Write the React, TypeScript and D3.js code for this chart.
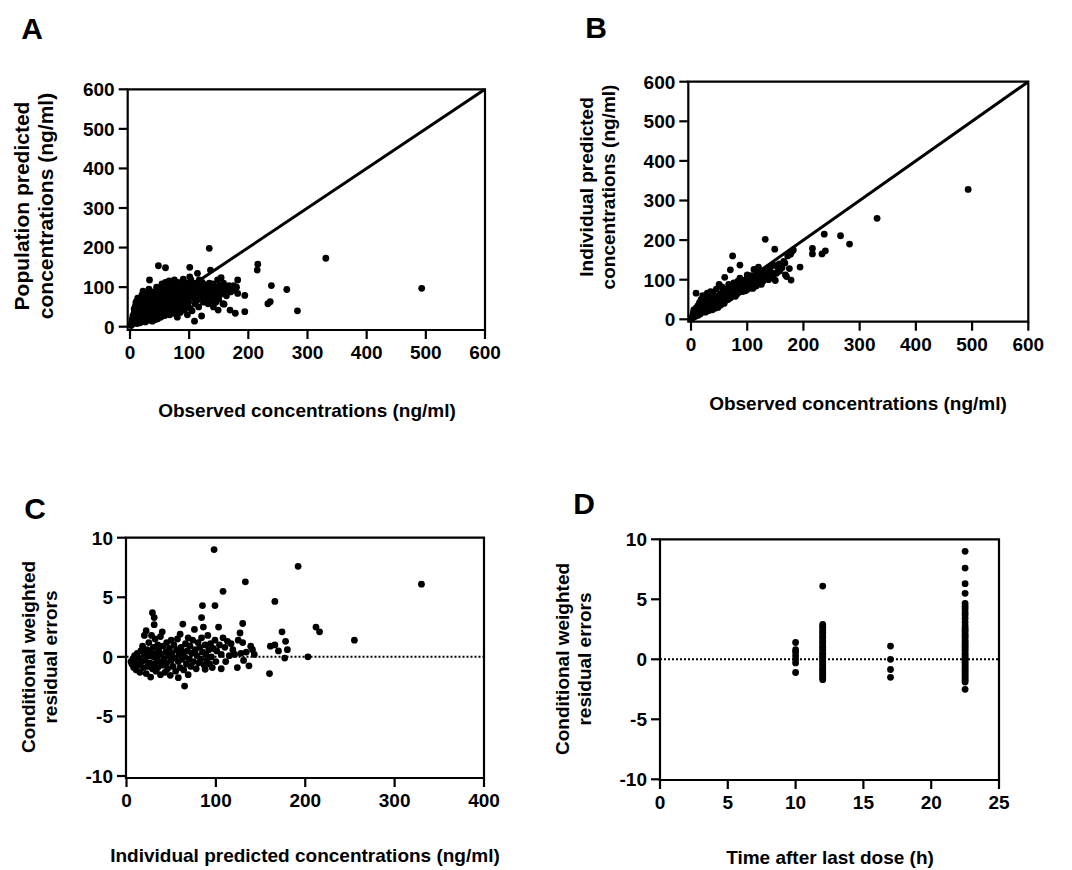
import React, { useEffect } from 'react';
import { scaleLinear } from 'd3';

// ---- data ----
// A: observed vs population predicted (ng/ml)
const obsVsPred: [number, number][] = [
  [2, 3], [3, 12], [4, 20], [5, 8], [5, 28], [6, 16], [7, 35], [7, 45], [8, 10], [8, 24], [9, 52], [10, 18], [10, 32], [10, 62], [11, 40], [12, 8], [12, 27], [13, 72], [13, 50],
  [14, 15], [14, 35], [15, 22], [15, 58], [16, 44], [17, 10], [17, 30], [18, 68], [18, 52], [19, 20], [19, 38], [20, 14], [20, 80], [21, 46], [21, 28], [22, 60], [22, 90], [23, 18], [23, 34], [24, 70], [24, 50], [25, 24], [25, 42],
  [26, 12], [26, 62], [27, 32], [27, 85], [28, 48], [28, 20], [29, 56], [30, 38], [30, 75], [31, 16], [31, 26], [32, 66], [32, 95], [33, 44], [33, 118], [34, 30], [34, 54], [35, 80], [36, 22], [36, 40], [37, 60], [37, 70], [38, 14], [38, 48], [39, 34], [40, 88], [40, 56], [41, 26], [41, 42], [42, 64], [43, 18], [43, 76], [44, 50], [44, 36], [45, 100], [45, 58],
  [46, 28], [46, 44], [47, 70], [47, 20], [48, 154], [48, 84], [49, 52], [50, 36], [50, 62], [51, 96], [52, 24], [52, 76], [53, 46], [54, 58], [54, 108], [55, 32], [55, 88], [56, 68], [57, 40], [57, 50], [58, 80], [58, 100], [59, 28], [60, 149], [60, 60], [60, 112], [61, 44], [62, 72], [62, 90], [63, 36], [64, 54], [64, 104], [65, 82], [66, 64], [66, 116], [67, 30], [67, 48], [68, 94], [68, 70], [69, 58], [70, 110], [70, 40],
  [71, 86], [72, 52], [72, 66], [73, 100], [74, 34], [74, 76], [75, 118], [75, 60], [76, 90], [77, 44], [78, 70], [78, 104], [79, 56], [80, 80], [80, 24], [81, 112], [82, 64], [82, 94], [83, 48], [84, 74], [85, 98], [85, 36], [86, 58], [87, 86], [88, 106], [88, 68], [89, 50], [90, 120], [90, 90], [91, 78], [92, 42], [92, 62], [93, 100], [94, 84], [95, 54], [96, 70], [96, 110], [97, 30], [98, 92], [99, 62], [100, 78], [100, 104], [101, 150], [101, 126],
  [102, 46], [103, 118], [104, 96], [105, 40], [106, 88], [107, 108], [108, 72], [109, 14], [109, 100], [110, 58], [111, 92], [112, 110], [113, 66], [114, 135], [114, 84], [115, 100], [116, 50], [117, 118], [118, 98], [119, 74], [120, 104], [121, 27], [121, 88], [122, 112], [124, 62], [125, 95], [126, 106], [128, 82], [129, 70], [130, 102], [131, 90], [132, 58], [134, 198], [134, 110], [135, 76], [136, 143], [137, 96], [138, 66], [139, 86],
  [140, 108], [141, 50], [142, 92], [144, 74], [145, 62], [146, 100], [147, 86], [148, 118], [149, 42], [150, 70], [151, 104], [153, 82], [154, 124], [155, 96], [157, 58], [158, 110], [159, 57], [160, 90], [162, 100], [163, 78], [165, 96], [167, 104], [169, 42], [170, 88], [172, 98], [175, 104], [176, 92], [178, 34], [180, 100], [182, 118], [182, 84],
  [194, 79], [194, 38], [215, 143], [216, 158], [233, 58], [237, 63], [239, 104], [265, 94], [283, 40], [331, 173], [493, 97],
];

// B: observed vs individual predicted (ng/ml)
const obsVsIpred: [number, number][] = [
  [2, 2], [3, 10], [4, 16], [5, 6], [5, 24], [6, 12], [7, 20], [8, 8], [9, 66], [9, 28], [10, 14], [11, 22], [12, 34], [13, 10], [14, 18], [15, 42], [16, 26], [17, 14], [18, 50], [19, 30], [20, 20],
  [21, 60], [22, 38], [23, 24], [24, 46], [25, 30], [26, 18], [27, 54], [28, 36], [29, 66], [30, 26], [31, 44], [32, 22], [33, 58], [34, 34], [35, 70], [36, 30], [37, 48], [38, 24], [39, 40], [40, 62], [41, 34], [42, 52], [43, 28], [44, 44], [45, 76],
  [46, 38], [47, 58], [48, 30], [49, 48], [50, 88], [51, 42], [52, 64], [53, 36], [54, 54], [55, 82], [56, 44], [57, 70], [58, 50], [59, 40], [60, 106], [60, 62], [61, 58], [62, 48], [63, 76], [64, 56], [65, 66], [66, 50], [67, 88], [68, 60], [69, 72], [70, 125], [70, 54], [71, 64], [72, 84], [73, 58], [74, 160], [74, 70],
  [75, 62], [76, 92], [77, 66], [78, 78], [79, 58], [80, 86], [81, 72], [82, 64], [83, 96], [84, 76], [85, 68], [86, 82], [87, 137], [87, 104], [88, 72], [89, 88], [90, 80], [91, 94], [92, 70], [93, 84], [94, 98], [95, 78], [96, 90], [97, 72], [98, 100], [99, 84], [100, 112], [100, 92], [101, 76], [102, 86], [103, 104], [104, 80], [105, 96], [106, 88], [107, 110], [108, 84], [109, 92], [110, 78],
  [111, 100], [112, 126], [113, 88], [114, 108], [115, 94], [116, 84], [117, 118], [118, 100], [119, 90], [120, 132], [120, 106], [122, 96], [124, 112], [125, 88], [126, 104], [128, 96], [130, 118], [132, 202], [132, 108], [134, 124], [136, 112], [138, 100], [140, 130], [142, 108], [144, 118], [146, 104], [148, 136], [149, 177], [150, 98], [152, 116], [155, 128], [157, 140], [158, 122], [160, 136], [162, 130], [165, 146], [167, 142], [168, 112], [170, 108], [172, 160], [175, 128], [177, 164], [178, 99], [180, 172], [182, 175],
  [194, 132], [216, 179], [216, 165], [233, 165], [237, 215], [239, 173], [266, 211], [282, 190], [331, 255], [493, 328],
];

// C: individual predicted (ng/ml) vs CWRES
const ipredVsCwres: [number, number][] = [
  [5, -0.4], [6, -0.6], [7, -0.2], [8, -0.9], [9, 0.1], [10, -0.5], [11, -1.1], [12, 0.3], [13, -0.7], [14, -0.1], [15, -1.3], [16, 0.5], [17, -0.4], [18, 0.9], [19, -0.9], [20, 1.8], [20, 0.2],
  [21, -0.3], [22, 2.2], [22, -1.4], [23, 0.6], [24, -0.8], [25, 0.1], [25, 1.2], [26, -0.5], [27, -1.7], [27, 0.4], [28, 1.8], [29, 3.7], [29, -1.0], [30, 0.0], [30, 0.8], [31, 3.3], [31, 2.7], [31, -0.6], [32, 1.5], [33, -1.2], [33, 0.3], [34, -0.2], [35, 1.0], [35, -0.9], [36, 0.5], [37, -0.4], [38, 1.7], [38, -1.5], [39, 0.2], [40, 2.1], [40, -0.7],
  [41, 0.9], [42, -0.2], [43, -1.3], [44, 0.4], [45, 1.2], [45, -0.5], [46, -1.0], [47, 0.1], [48, 0.7], [49, -1.55], [50, 1.4], [50, -0.3], [51, 0.3], [52, -0.8], [53, 1.0], [54, -0.1], [55, -1.2], [56, 0.6], [57, 1.5], [58, -1.75], [58, -0.4], [59, 0.2], [60, 1.9], [60, -0.9], [61, 0.8], [62, -0.2], [63, 2.75], [63, 0.4], [64, -1.1], [65, -2.45], [65, 0.0], [66, 1.1], [67, -0.6], [68, 0.5], [69, -1.5], [69, 1.6], [70, -0.2],
  [71, 0.9], [72, -0.8], [73, 0.3], [74, 1.4], [75, -0.4], [76, 2.3], [77, 0.6], [78, -1.0], [79, 0.1], [80, 1.2], [81, -0.5], [82, 0.8], [83, -0.2], [84, 3.3], [84, 1.6], [85, 4.3], [85, 0.4], [86, 2.5], [87, -0.7], [88, -1.05], [88, 1.0], [89, 0.2], [90, -0.3], [91, 1.8], [92, 0.6], [93, -0.6], [94, 1.1], [95, 0.0], [96, -0.9], [97, 0.7], [98, 9.0], [99, 4.3], [99, 1.4], [100, -0.4],
  [101, 0.5], [103, 2.5], [104, 1.0], [106, -1.0], [106, 0.2], [108, 5.5], [108, 1.6], [110, 0.8], [111, -0.4], [113, 1.3], [115, 0.1], [117, 1.1], [119, 0.6], [121, 0.2], [124, -0.9], [125, 1.4], [127, 2.0], [128, 0.3], [130, 2.8], [130, 1.2], [131, -0.3], [133, 6.3], [134, 0.4], [137, -0.75], [139, 0.9], [141, 0.6], [143, 0.2],
  [160, -1.4], [161, 0.9], [166, 1.0], [166, 4.65], [170, 0.5], [174, 2.1], [177, -0.1], [178, 1.3], [180, 0.6], [192, 7.6], [203, 0.0], [212, 2.5], [216, 2.1], [255, 1.4], [330, 6.1],
];

// D: CWRES grouped by time after last dose (h)
const doseTimes = [10, 12, 17, 22.5];
const cwresAt10 = [1.4, 0.8, 0.6, 0.3, 0.0, -0.3, -1.1];
const cwresAt12 = [6.1, 2.9, 2.75, 2.6, 2.4, 2.25, 2.1, 1.9, 1.8, 1.6, 1.45, 1.3, 1.1, 1.0, 0.85, 0.7, 0.5, 0.4, 0.25, 0.1, -0.05, -0.2, -0.35, -0.5, -0.7, -0.8, -0.95, -1.1, -1.25, -1.4, -1.55, -1.7];
const cwresAt17 = [1.1, 0.0, -0.85, -1.5];
const cwresAt22 = [9.0, 7.6, 6.3, 5.5, 4.65, 4.4, 4.2, 3.9, 3.7, 3.4, 3.1, 2.8, 2.6, 2.45, 2.3, 2.1, 1.95, 1.8, 1.6, 1.45, 1.3, 1.15, 1.0, 0.85, 0.7, 0.5, 0.35, 0.2, 0.05, -0.1, -0.25, -0.4, -0.55, -0.7, -0.85, -1.0, -1.15, -1.3, -1.45, -1.6, -1.75, -1.9, -2.5];
const timeVsCwres: [number, number][] = [cwresAt10, cwresAt12, cwresAt17, cwresAt22]
  .flatMap((vals, i) => vals.map((v) => [doseTimes[i], v] as [number, number]));

const concTicks = [0, 100, 200, 300, 400, 500, 600];
const ipredTicks = [0, 100, 200, 300, 400];
const timeTicks = [0, 5, 10, 15, 20, 25];
const cwresTicks = [-10, -5, 0, 5, 10];

const FONT = '"Liberation Sans", Arial, Helvetica, sans-serif';
const DOT_R = 3.4;

type PanelProps = {
  letter: string;
  letterPos: [number, number];
  data: [number, number][];
  xDomain: [number, number];
  yDomain: [number, number];
  xTicks: number[];
  yTicks: number[];
  box: { left: number; right: number; top: number; bottom: number; x0: number; y0: number };
  xTitle: string;
  xTitlePos: [number, number];
  yTitle: string[];
  yTitlePos: [number, number];
  yTitleSize: number;
  identity?: boolean;
  zeroLine?: boolean;
};

const Panel = ({
  letter, letterPos, data, xDomain, yDomain, xTicks, yTicks, box,
  xTitle, xTitlePos, yTitle, yTitlePos, yTitleSize, identity, zeroLine,
}: PanelProps) => {
  const x = scaleLinear().domain(xDomain).range([box.x0, box.right]);
  const y = scaleLinear().domain(yDomain).range([box.y0, box.top]);
  const lineGap = yTitleSize * 1.15;
  return (
    <g fontFamily={FONT} fontWeight="bold" fill="#000">
      <text x={letterPos[0]} y={letterPos[1]} fontSize={30} textAnchor="middle">{letter}</text>

      {/* frame */}
      <path
        d={`M${box.left},${box.top}H${box.right}V${box.bottom}H${box.left}Z`}
        fill="none" stroke="#000" strokeWidth={2.2}
      />

      {zeroLine && (
        <line x1={x(xDomain[0])} x2={box.right} y1={y(0)} y2={y(0)}
          stroke="#000" strokeWidth={2} strokeDasharray="2,2" />
      )}
      {identity && (
        <line x1={x(0)} y1={y(0)} x2={x(xDomain[1])} y2={y(yDomain[1])}
          stroke="#000" strokeWidth={3} />
      )}

      {data.map(([dx, dy], i) => (
        <circle key={i} cx={x(dx)} cy={y(dy)} r={DOT_R} fill="#000" />
      ))}

      {/* y axis */}
      {yTicks.map((t) => (
        <g key={'y' + t}>
          <line x1={box.left - 9} x2={box.left} y1={y(t)} y2={y(t)} stroke="#000" strokeWidth={2.2} />
          <text x={box.left - 13} y={y(t)} dy="0.36em" fontSize={19} textAnchor="end">{t}</text>
        </g>
      ))}
      {/* x axis */}
      {xTicks.map((t) => (
        <g key={'x' + t}>
          <line x1={x(t)} x2={x(t)} y1={box.bottom} y2={box.bottom + 9} stroke="#000" strokeWidth={2.2} />
          <text x={x(t)} y={box.bottom + 29} fontSize={19} textAnchor="middle">{t}</text>
        </g>
      ))}

      <text x={xTitlePos[0]} y={xTitlePos[1]} dy="0.35em" fontSize={19} textAnchor="middle">{xTitle}</text>
      <g transform={`translate(${yTitlePos[0]},${yTitlePos[1]}) rotate(-90)`}>
        {yTitle.map((line, i) => (
          <text key={i} x={0} y={(i - (yTitle.length - 1) / 2) * lineGap} dy="0.35em"
            fontSize={yTitleSize} textAnchor="middle">{line}</text>
        ))}
      </g>
    </g>
  );
};

export default function App() {
  useEffect(() => {
    document.body.style.margin = '0';
  }, []);
  return (
    <svg width={1072} height={870} style={{ display: 'block', background: '#fff' }}>
      <Panel
        letter="A" letterPos={[32, 39]} data={obsVsPred}
        xDomain={[0, 600]} yDomain={[0, 600]} xTicks={concTicks} yTicks={concTicks}
        box={{ left: 127.7, right: 485, top: 89.3, bottom: 330, x0: 130, y0: 326.7 }}
        xTitle="Observed concentrations (ng/ml)" xTitlePos={[307, 410]}
        yTitle={['Population predicted', 'concentrations (ng/ml)']} yTitlePos={[33.5, 206]} yTitleSize={21}
        identity
      />
      <Panel
        letter="B" letterPos={[596, 38]} data={obsVsIpred}
        xDomain={[0, 600]} yDomain={[0, 600]} xTicks={concTicks} yTicks={concTicks}
        box={{ left: 688.3, right: 1028.3, top: 81.7, bottom: 321.7, x0: 691, y0: 319.3 }}
        xTitle="Observed concentrations (ng/ml)" xTitlePos={[858, 403]}
        yTitle={['Individual predicted', 'concentrations (ng/ml)']} yTitlePos={[597.5, 187]} yTitleSize={19}
        identity
      />
      <Panel
        letter="C" letterPos={[35, 519]} data={ipredVsCwres}
        xDomain={[0, 400]} yDomain={[-10, 10]} xTicks={ipredTicks} yTicks={cwresTicks}
        box={{ left: 126, right: 484, top: 537.7, bottom: 778, x0: 126.5, y0: 776 }}
        xTitle="Individual predicted concentrations (ng/ml)" xTitlePos={[305, 855]}
        yTitle={['Conditional weighted', 'residual errors']} yTitlePos={[39, 657]} yTitleSize={19}
        zeroLine
      />
      <Panel
        letter="D" letterPos={[584, 514]} data={timeVsCwres}
        xDomain={[0, 25]} yDomain={[-10, 10]} xTicks={timeTicks} yTicks={cwresTicks}
        box={{ left: 660, right: 999, top: 539.3, bottom: 780, x0: 660, y0: 779.3 }}
        xTitle="Time after last dose (h)" xTitlePos={[830, 857]}
        yTitle={['Conditional weighted', 'residual errors']} yTitlePos={[573.5, 659]} yTitleSize={19}
        zeroLine
      />
    </svg>
  );
}
